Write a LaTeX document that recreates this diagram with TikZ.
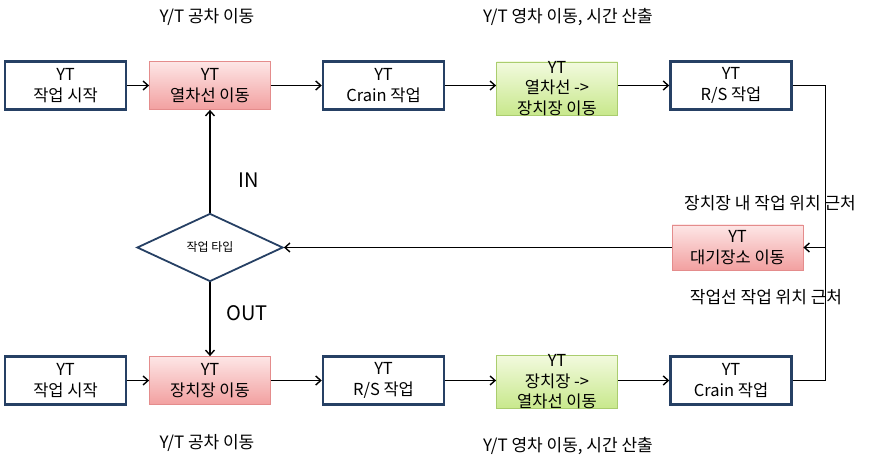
\documentclass[tikz,border=0pt]{standalone}
\usepackage{fontspec}
\setmainfont{Noto Sans CJK KR}
\usetikzlibrary{arrows.meta,shapes.geometric}
\definecolor{navy}{RGB}{38,64,100}
\definecolor{pinkline}{RGB}{228,140,140}
\definecolor{pinktop}{RGB}{253,230,230}
\definecolor{pinkbot}{RGB}{242,160,160}
\definecolor{greenline}{RGB}{170,205,110}
\definecolor{greentop}{RGB}{242,250,222}
\definecolor{greenbot}{RGB}{200,232,140}
\begin{document}
\begin{tikzpicture}[x=1pt,y=1pt,
box/.style={draw=navy,line width=2.5pt,fill=white,minimum width=121pt,minimum height=48pt,align=center,inner sep=0pt,font=\fontsize{16.5}{20.5}\selectfont},
redbox/.style={box,draw=pinkline,line width=.8pt,top color=pinktop,bottom color=pinkbot},
greenbox/.style={box,draw=greenline,line width=.8pt,top color=greentop,bottom color=greenbot,minimum height=53pt,inner ysep=-6pt},
lbl/.style={font=\fontsize{17}{20}\selectfont},
ar/.style={-{Straight Barb[length=5pt,width=9pt]},line width=1.4pt}]
\useasboundingbox(0,0)rectangle(870,461);
% upper row
\node[box](s1)at(65.5,375.5){YT\\작업 시작};
\node[redbox](m1)at(210,375.5){YT\\열차선 이동};
\node[box](c1)at(383.5,375.5){YT\\Crain 작업};
\node[greenbox](g1)at(557,372.5){YT\\열차선 ->\\장치장 이동};
\node[box](r1)at(731,375.5){YT\\R/S 작업};
% lower row
\node[box](s2)at(65.5,80.5){YT\\작업 시작};
\node[redbox](m2)at(210,80.5){YT\\장치장 이동};
\node[box](c2)at(383.5,80.5){YT\\R/S 작업};
\node[greenbox](g2)at(557,79){YT\\장치장 ->\\열차선 이동};
\node[box](r2)at(731,80.5){YT\\Crain 작업};
% middle
\node[redbox,minimum width=131pt,minimum height=45pt](w)at(737.5,213.5){YT\\대기장소 이동};
\node[diamond,draw=navy,line width=1.8pt,minimum width=146pt,minimum height=68pt,inner sep=0pt,font=\fontsize{12}{14}\selectfont](d)at(210,213.5){작업 타입};
\coordinate(j)at(825.5,213.5);
% labels
\node[lbl](t1)at(207,444){Y/T 공차 이동};
\node[lbl](t2)at(568,444){Y/T 영차 이동, 시간 산출};
\node[lbl](t3)at(207,18){Y/T 공차 이동};
\node[lbl](t4)at(568,15){Y/T 영차 이동, 시간 산출};
\node[lbl](t5)at(770,258){장치장 내 작업 위치 근처};
\node[lbl](t6)at(766,164){작업선 작업 위치 근처};
\node[font=\fontsize{20}{24}\selectfont](in)at(249,281){IN};
\node[font=\fontsize{20}{24}\selectfont](out)at(247,148){OUT};
% connectors
\foreach\a/\b in{s1/m1,m1/c1,s2/m2,m2/c2}{\draw[ar](\a)--(\b);}
\draw[ar](c1.east)--(c1.east-|g1.west);
\draw[ar](g1.east|-r1.west)--(r1.west);
\draw[ar](c2.east)--(c2.east-|g2.west);
\draw[ar](g2.east|-r2.west)--(r2.west);
\draw[line width=1.4pt](r1.east)-|(j);
\draw[line width=1.4pt](r2.east)-|(j);
\draw[ar](j)--(w.east);
\draw[ar](w.west)--(d.east);
\draw[ar](d.north)--(m1.south);
\draw[ar](d.south)--(m2.north);
\end{tikzpicture}
\end{document}
